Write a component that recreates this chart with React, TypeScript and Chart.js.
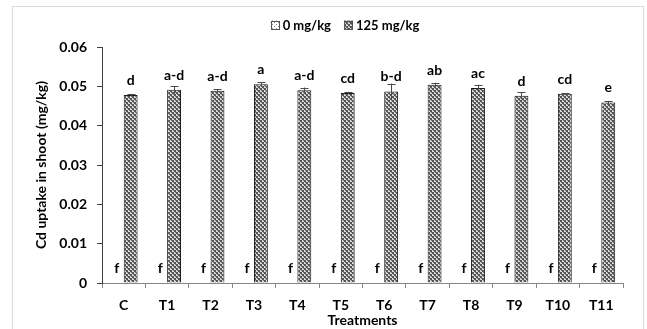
import React, { useEffect, useRef } from "react";
import { Chart, registerables } from "chart.js";

Chart.register(...registerables);

const CATEGORIES = ["C", "T1", "T2", "T3", "T4", "T5", "T6", "T7", "T8", "T9", "T10", "T11"];
const SERIES_NAMES = ["0 mg/kg", "125 mg/kg"];
const VALUES_0 = [0, 0, 0, 0, 0, 0, 0, 0, 0, 0, 0, 0];
const VALUES_125 = [0.0478, 0.0491, 0.0489, 0.0505, 0.049, 0.0483, 0.0487, 0.0504, 0.0496, 0.0476, 0.0481, 0.0459];
const ERRORS_125 = [0.0003, 0.001, 0.0003, 0.0006, 0.0007, 0.0003, 0.002, 0.0005, 0.0008, 0.0009, 0.0002, 0.0004];
const LETTERS_0 = ["f", "f", "f", "f", "f", "f", "f", "f", "f", "f", "f", "f"];
const LETTERS_125 = ["d", "a-d", "a-d", "a", "a-d", "cd", "b-d", "ab", "ac", "d", "cd", "e"];
const Y_TICK_LABELS = ["0", "0.01", "0.02", "0.03", "0.04", "0.05", "0.06"];
const Y_TITLE = "Cd uptake in shoot (mg/kg)";
const X_TITLE = "Treatments";

const FONT = "Lato, 'Noto Sans', sans-serif";

function makePattern(kind: "dark" | "light"): CanvasPattern | string {
  const c = document.createElement("canvas");
  c.width = 4;
  c.height = 4;
  const g = c.getContext("2d");
  if (!g) return "#999";
  if (kind === "dark") {
    g.fillStyle = "#dcdcdc";
    g.fillRect(0, 0, 4, 4);
    g.fillStyle = "#555555";
    g.fillRect(0, 0, 2, 2);
    g.fillRect(2, 2, 2, 2);
    g.fillStyle = "#7a7a7a";
    g.fillRect(1, 2, 1, 1);
    g.fillRect(3, 0, 1, 1);
  } else {
    g.fillStyle = "#ffffff";
    g.fillRect(0, 0, 4, 4);
    g.fillStyle = "#8a8a8a";
    g.fillRect(0, 0, 1, 1);
    g.fillRect(2, 2, 1, 1);
  }
  const p = g.createPattern(c, "repeat");
  return p || "#999";
}

export default function App() {
  const ref = useRef<HTMLCanvasElement | null>(null);

  useEffect(() => {
    const canvas = ref.current;
    if (!canvas) return;
    const darkPat = makePattern("dark");
    const lightPat = makePattern("light");

    const framePlugin = {
      id: "frame",
      beforeDraw(chart: any) {
        const ctx = chart.ctx;
        ctx.save();
        ctx.fillStyle = "#ffffff";
        ctx.fillRect(0, 0, chart.width, chart.height);
        ctx.strokeStyle = "#d9d9d9";
        ctx.lineWidth = 1;
        ctx.strokeRect(12.5, 6.5, 631, 340);
        ctx.restore();
      },
    };

    const legendPlugin = {
      id: "customLegend",
      afterDraw(chart: any) {
        const ctx = chart.ctx;
        ctx.save();
        ctx.font = `bold 13px ${FONT}`;
        ctx.textBaseline = "middle";
        ctx.textAlign = "left";
        const box = 9;
        const gap = 3;
        const spacing = 13;
        const fills = [lightPat, darkPat];
        const widths = SERIES_NAMES.map((n) => box + gap + ctx.measureText(n).width);
        const total = widths.reduce((a, b) => a + b, 0) + spacing * (widths.length - 1);
        let x = 345 - total / 2;
        const cy = 25;
        SERIES_NAMES.forEach((name, i) => {
          ctx.fillStyle = fills[i] as any;
          ctx.fillRect(x, cy - box / 2, box, box);
          ctx.strokeStyle = "#555";
          ctx.lineWidth = 1;
          ctx.strokeRect(Math.round(x) + 0.5, Math.round(cy - box / 2) + 0.5, box - 1, box - 1);
          ctx.fillStyle = "#000";
          ctx.fillText(name, x + box + gap, cy + 1);
          x += widths[i] + spacing;
        });
        ctx.restore();
      },
    };

    const errorPlugin = {
      id: "errorBars",
      afterDatasetsDraw(chart: any) {
        const ctx = chart.ctx;
        const yScale = chart.scales.y;
        const meta = chart.getDatasetMeta(1);
        ctx.save();
        ctx.strokeStyle = "#4a4a4a";
        ctx.lineWidth = 1;
        meta.data.forEach((el: any, i: number) => {
          const v = VALUES_125[i];
          const e = ERRORS_125[i];
          const yTop = yScale.getPixelForValue(v + e);
          const yBot = yScale.getPixelForValue(v - e);
          const x = Math.round(el.x) + 0.5;
          ctx.beginPath();
          ctx.moveTo(x, yBot);
          ctx.lineTo(x, yTop);
          ctx.moveTo(x - 4, Math.round(yTop) + 0.5);
          ctx.lineTo(x + 4, Math.round(yTop) + 0.5);
          ctx.stroke();
        });
        ctx.restore();
      },
    };

    const letterPlugin = {
      id: "letters",
      afterDatasetsDraw(chart: any) {
        const ctx = chart.ctx;
        ctx.save();
        ctx.font = `bold 14px ${FONT}`;
        ctx.fillStyle = "#000";
        ctx.textAlign = "center";
        ctx.textBaseline = "alphabetic";
        const sets = [LETTERS_0, LETTERS_125];
        sets.forEach((letters, d) => {
          const meta = chart.getDatasetMeta(d);
          meta.data.forEach((el: any, i: number) => {
            ctx.fillText(letters[i], el.x, el.y - 10);
          });
        });
        ctx.restore();
      },
    };

    const chart = new Chart(canvas, {
      type: "bar",
      data: {
        labels: CATEGORIES,
        datasets: [
          {
            label: SERIES_NAMES[0],
            data: VALUES_0,
            backgroundColor: lightPat as any,
            borderColor: "#1a1a1a",
            borderWidth: 0,
            categoryPercentage: 0.64,
            barPercentage: 1.0,
          },
          {
            label: SERIES_NAMES[1],
            data: VALUES_125,
            backgroundColor: darkPat as any,
            borderColor: "#1a1a1a",
            borderWidth: 1,
            categoryPercentage: 0.64,
            barPercentage: 1.0,
          },
        ],
      },
      options: {
        responsive: false,
        animation: false,
        events: [],
        layout: { padding: { top: 47, right: 24, left: 0, bottom: 0 } },
        plugins: {
          legend: { display: false },
          tooltip: { enabled: false },
          title: { display: false },
        },
        scales: {
          x: {
            offset: true,
            grid: {
              display: true,
              drawOnChartArea: false,
              drawTicks: true,
              tickLength: 5,
              color: "#868686",
              offset: true,
            },
            border: { display: true, color: "#868686", width: 1 },
            ticks: {
              color: "#000",
              font: { family: FONT, size: 14, weight: "bold" },
              padding: 9,
              maxRotation: 0,
              autoSkip: false,
            },
            title: {
              display: true,
              text: X_TITLE,
              color: "#000",
              font: { family: FONT, size: 14, weight: "bold" },
              padding: { top: 0, bottom: 0 },
            },
            afterFit(scale: any) {
              scale.height = 46;
            },
          },
          y: {
            min: 0,
            max: 0.06,
            grid: {
              display: true,
              drawOnChartArea: false,
              drawTicks: true,
              tickLength: 5,
              color: "#404040",
            },
            border: { display: true, color: "#404040", width: 1 },
            ticks: {
              stepSize: 0.01,
              color: "#000",
              font: { family: FONT, size: 14, weight: "bold" },
              padding: 10,
              callback: (_v: any, index: number) => Y_TICK_LABELS[index],
            },
            title: {
              display: true,
              text: Y_TITLE,
              color: "#000",
              font: { family: FONT, size: 14, weight: "bold" },
              padding: { top: 33, bottom: 0 },
            },
            afterFit(scale: any) {
              scale.width = 102;
            },
          },
        },
      },
      plugins: [framePlugin, errorPlugin, letterPlugin, legendPlugin],
    } as any);

    return () => {
      chart.destroy();
    };
  }, []);

  return (
    <div style={{ position: "fixed", left: 0, top: 0, width: 647, height: 329, background: "#fff" }}>
      <canvas ref={ref} width={647} height={329} style={{ display: "block" }} />
    </div>
  );
}
